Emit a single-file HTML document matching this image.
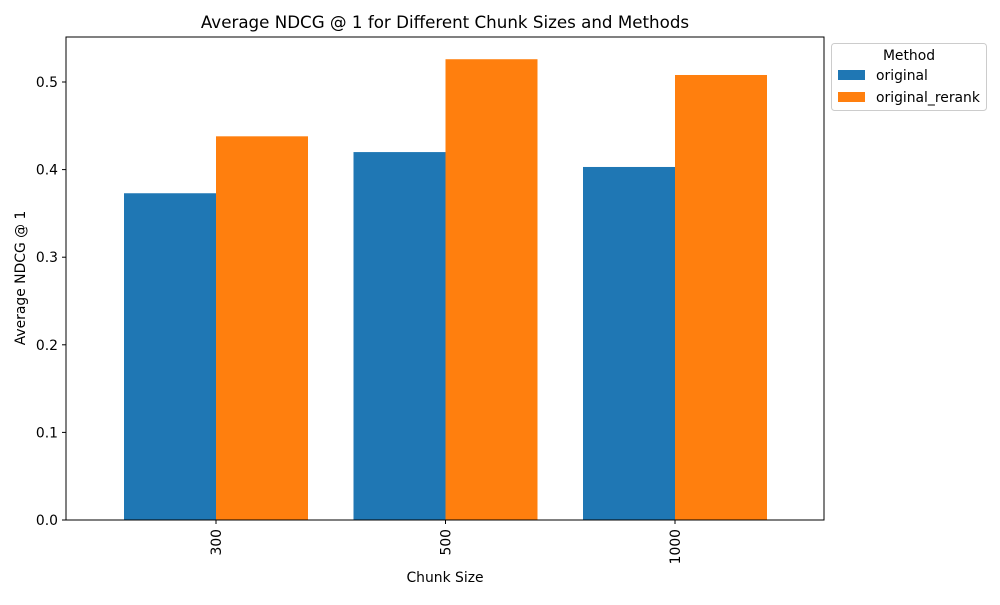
<!DOCTYPE html>
<html><head><meta charset="utf-8"><style>
body{margin:0;background:#fff;}
svg text{font-family:"DejaVu Sans","Liberation Sans",sans-serif;fill:#000;}
</style></head><body>
<svg id="chart" width="1000" height="600" xmlns="http://www.w3.org/2000/svg">
<rect width="1000" height="600" fill="#fff"/>
<text x="445" y="28" font-size="16.7" text-anchor="middle">Average NDCG @ 1 for Different Chunk Sizes and Methods</text>
<g id="bars"></g>
<g id="yticks"></g>
<g id="xticks"></g>
<rect x="66" y="37" width="758" height="483" fill="none" stroke="#000" stroke-width="1"/>
<text x="445" y="582" font-size="13.9" text-anchor="middle">Chunk Size</text>
<text transform="translate(25,278) rotate(-90)" font-size="13.9" text-anchor="middle">Average NDCG @ 1</text>
<g>
<rect x="831.5" y="43.5" width="155" height="67" rx="3" fill="#fff" stroke="#ccc"/>
<text x="909" y="60" font-size="13.9" text-anchor="middle">Method</text>
<rect x="838" y="70" width="27" height="10" fill="#1f77b4"/>
<text x="876" y="80" font-size="13.9">original</text>
<rect x="838" y="92" width="27" height="10" fill="#ff7f0e"/>
<text x="876" y="102" font-size="13.9">original_rerank</text>
</g>
</svg>
<script>
const categories = ["300", "500", "1000"];
const originalValues = [0.373, 0.420, 0.403];
const rerankValues = [0.438, 0.526, 0.508];
const yTickLabels = ["0.0", "0.1", "0.2", "0.3", "0.4", "0.5"];
const yTickValues = [0, 0.1, 0.2, 0.3, 0.4, 0.5];

const NS = "http://www.w3.org/2000/svg";
const y = v => 520 - v * 876;
const x = i => 216 + i * 229.5;
const barW = 92;
function mk(tag, attrs, parent){const e=document.createElementNS(NS,tag);for(const k in attrs)e.setAttribute(k,attrs[k]);parent.appendChild(e);return e;}
const bars = document.getElementById("bars");
categories.forEach((c,i)=>{
  const b1 = mk("rect",{x:x(i)-barW,y:y(originalValues[i]),width:barW,height:520-y(originalValues[i]),fill:"#1f77b4"},bars);
  
  
  const b2 = mk("rect",{x:x(i),y:y(rerankValues[i]),width:barW,height:520-y(rerankValues[i]),fill:"#ff7f0e"},bars);
  
  
  const xt = document.getElementById("xticks");
  mk("line",{x1:x(i),x2:x(i),y1:520,y2:524,stroke:"#000"},xt);
  const t = mk("text",{transform:`translate(${x(i)+5},529) rotate(-90)`,"font-size":13.9,"text-anchor":"end"},xt);
  t.textContent = c;
  
  
});
const yt = document.getElementById("yticks");
yTickValues.forEach((v,i)=>{
  mk("line",{x1:62,x2:66,y1:y(v),y2:y(v),stroke:"#000"},yt);
  const t = mk("text",{x:58,y:y(v)+5,"font-size":13.9,"text-anchor":"end"},yt);
  t.textContent = yTickLabels[i];
  
  
});
</script>
</body></html>
